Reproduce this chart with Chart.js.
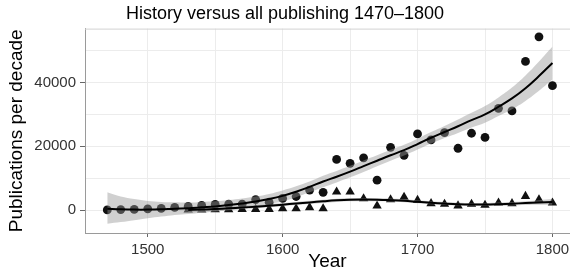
<!DOCTYPE html>
<html>
<head>
<meta charset="utf-8">
<script src="https://cdn.jsdelivr.net/npm/chart.js@4/dist/chart.umd.min.js"></script>
<style>
  body { margin: 0; background: #fff; overflow: hidden; }
</style>
</head>
<body>
<canvas id="myChart" width="570" height="275"></canvas>
<script>
// decades 1470 - 1800
var decades = [1470,1480,1490,1500,1510,1520,1530,1540,1550,1560,1570,1580,1590,1600,1610,1620,1630,
  1640,1650,1660,1670,1680,1690,1700,1710,1720,1730,1740,1750,1760,1770,1780,1790,1800];

// all publishing (circles)
var allPub = [100,200,250,400,600,900,1200,1500,1800,1900,1900,3300,2500,3700,4300,6300,5600,
  15900,14700,16400,9400,19700,17200,23900,22000,24300,19400,24100,22800,31900,31100,46600,54300,39000];

// history (triangles)
var histPub = [null,null,null,null,null,null,100,150,200,250,300,300,300,500,500,850,500,
  5750,5750,3650,1350,3350,4100,3140,2100,1900,1400,1900,1600,2300,2100,4400,3350,2300];

// smoothed fits and their bands
var allFit = [500,300,200,200,300,500,600,900,1200,1600,2100,2700,3500,4500,5800,7300,9000,
  10500,12100,13800,15500,17200,18800,20700,22700,24500,26300,28200,30000,32400,35000,38200,42000,46100];
var allLo = [-4200,-3700,-3100,-2500,-2000,-1500,-1200,-800,-400,0,500,1100,1900,2800,4100,5600,7200,
  8700,10300,12000,13800,15500,17100,19000,20900,22600,24200,25900,27400,29500,31600,34200,37400,40900];
var allHi = [5600,4300,3500,2900,2600,2500,2400,2600,2800,3200,3700,4300,5100,6200,7500,9000,10800,
  12300,13900,15600,17200,18900,20500,22400,24500,26400,28400,30500,32600,35300,38400,42200,46600,51300];

var histFit = [null,null,null,null,null,null,100,200,400,600,850,1100,1400,1750,2100,2450,2800,
  3100,3300,3350,3300,3150,2950,2650,2350,2100,1900,1800,1800,1900,2050,2250,2450,2600];
var histLo = [null,null,null,null,null,null,-800,-500,-200,50,350,600,900,1250,1600,1950,2300,
  2600,2800,2850,2800,2650,2500,2200,1900,1650,1450,1350,1350,1400,1500,1650,1750,1700];
var histHi = [null,null,null,null,null,null,1000,900,1000,1150,1350,1600,1900,2250,2600,2950,3300,
  3600,3800,3850,3800,3650,3400,3100,2800,2550,2350,2250,2250,2400,2600,2850,3150,3500];

var xGrid = [1500,1550,1600,1650,1700,1750,1800];
var xLabels = [1500,1600,1700,1800];
var yGrid = [0,10000,20000,30000,40000,50000];
var yLabels = [0,20000,40000];

function pts(arr) {
  return decades.map(function(d, i) { return {x: d, y: arr[i]}; });
}

var font = "'Liberation Sans', Arial, Helvetica, sans-serif";
var band = "rgba(150,150,150,0.45)";
var none = 'rgba(0,0,0,0)';

// light top border of the panel
var panelTop = {
  id: 'panelTop',
  beforeDatasetsDraw: function(chart) {
    var a = chart.chartArea, c = chart.ctx;
    c.save();
    c.strokeStyle = '#d2d2d2';
    c.lineWidth = 1;
    c.beginPath();
    c.moveTo(a.left, a.top + 0.5);
    c.lineTo(a.right, a.top + 0.5);
    c.stroke();
    c.restore();
  }
};

var ctx = document.getElementById("myChart");
var myChart = new Chart(ctx, {
  type: 'line',
  data: {
    datasets: [
      { data: pts(allLo), borderWidth: 0, pointRadius: 0, fill: false, tension: 0.4, order: 2 },
      { data: pts(allHi), borderWidth: 0, pointRadius: 0, fill: '-1', backgroundColor: band, tension: 0.4, order: 2 },
      { data: pts(histLo), borderWidth: 0, pointRadius: 0, fill: false, tension: 0.4, order: 2 },
      { data: pts(histHi), borderWidth: 0, pointRadius: 0, fill: '-1', backgroundColor: band, tension: 0.4, order: 2 },
      { data: pts(allFit), borderColor: '#000', borderWidth: 2, pointRadius: 0, fill: false, tension: 0.4, order: 1 },
      { data: pts(histFit), borderColor: '#000', borderWidth: 2, pointRadius: 0, fill: false, tension: 0.4, order: 1 },
      { data: pts(allPub), showLine: false, pointStyle: 'circle', pointRadius: 4.4,
        pointBackgroundColor: '#111', pointBorderWidth: 0, order: 3 },
      { data: pts(histPub), showLine: false, pointStyle: 'triangle', pointRadius: 5.4,
        pointBackgroundColor: '#111', pointBorderWidth: 0, order: 3 }
    ]
  },
  options: {
    responsive: false,
    animation: false,
    layout: { padding: 0, autoPadding: false },
    plugins: {
      legend: { display: false },
      tooltip: { enabled: false },
      title: {
        display: true,
        text: 'History versus all publishing 1470\u20131800',
        color: '#000',
        font: { family: font, size: 18, weight: 'normal' },
        padding: { top: 3, bottom: 4 }
      }
    },
    scales: {
      x: {
        type: 'linear',
        min: 1453.5,
        max: 1813,
        afterBuildTicks: function(s) { s.ticks = xGrid.map(function(v) { return {value: v}; }); },
        afterFit: function(s) { s.height = 42; s.paddingLeft = 0; s.paddingRight = 0; },
        ticks: {
          autoSkip: false, maxRotation: 0, padding: 4, color: '#333',
          font: { family: font, size: 15 },
          callback: function(v) { return xLabels.indexOf(v) >= 0 ? String(v) : ''; }
        },
        grid: {
          tickLength: 4,
          color: function(c) { return c.tick && xGrid.indexOf(c.tick.value) >= 0 ? '#ececec' : none; },
          tickColor: function(c) { return c.tick && xLabels.indexOf(c.tick.value) >= 0 ? '#666' : none; }
        },
        border: { color: '#9a9a9a' },
        title: {
          display: true, text: 'Year', color: '#000',
          font: { family: font, size: 19 },
          padding: { top: 0, bottom: 2 }
        }
      },
      y: {
        type: 'linear',
        min: -7130,
        max: 56870,
        afterBuildTicks: function(s) { s.ticks = yGrid.map(function(v) { return {value: v}; }); },
        afterFit: function(s) { s.width = 85; s.paddingTop = 0; s.paddingBottom = 0; },
        ticks: {
          autoSkip: false, padding: 4, color: '#333',
          font: { family: font, size: 15 },
          callback: function(v) { return yLabels.indexOf(v) >= 0 ? String(v) : ''; }
        },
        grid: {
          tickLength: 5,
          color: function(c) { return c.tick && yGrid.indexOf(c.tick.value) >= 0 ? '#ececec' : none; },
          tickColor: function(c) { return c.tick && yLabels.indexOf(c.tick.value) >= 0 ? '#666' : none; }
        },
        border: { color: '#9a9a9a' },
        title: {
          display: true, text: 'Publications per decade', color: '#000',
          font: { family: font, size: 19 },
          padding: { top: 5, bottom: 0 }
        }
      }
    }
  },
  plugins: [panelTop]
});
</script>
</body>
</html>
